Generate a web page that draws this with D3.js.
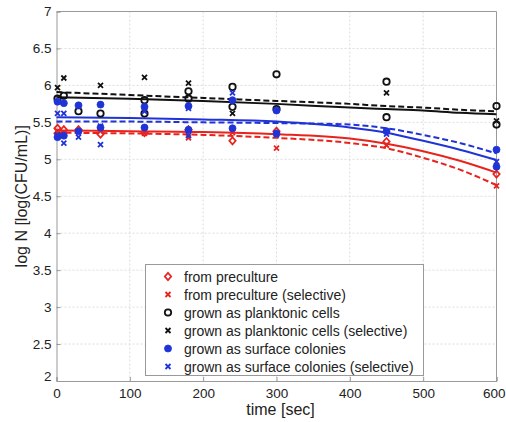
<!DOCTYPE html>
<html>
<head>
<meta charset="utf-8">
<script src="https://d3js.org/d3.v7.min.js"></script>
<style>
body { margin: 0; background: #fff; }
text { font-family: "Liberation Sans", Arial, sans-serif; }
</style>
</head>
<body>
<script>
// tick labels
var xTicks = [0, 100, 200, 300, 400, 500, 600];
var yTicks = [2, 2.5, 3, 3.5, 4, 4.5, 5, 5.5, 6, 6.5, 7];

// measured points [time, log N]
var precult = [[0,5.42],[0,5.35],[10,5.40],[30,5.40],[60,5.34],[120,5.36],[180,5.40],[240,5.25],[300,5.38],[450,5.24],[600,4.80]];
var precultSel = [[0,5.38],[10,5.36],[30,5.37],[60,5.38],[120,5.35],[180,5.29],[240,5.36],[300,5.15],[450,5.19],[600,4.64]];
var plank = [[0,5.82],[10,5.86],[30,5.65],[60,5.62],[120,5.80],[120,5.62],[180,5.92],[180,5.82],[240,5.98],[240,5.71],[300,6.15],[300,5.68],[450,6.05],[450,5.57],[600,5.72],[600,5.47]];
var plankSel = [[0,5.97],[10,6.10],[60,6.00],[120,6.11],[180,6.03],[240,5.62],[450,5.90],[600,5.52]];
var surf = [[0,5.78],[0,5.30],[10,5.76],[10,5.32],[30,5.73],[30,5.38],[60,5.74],[60,5.43],[120,5.71],[120,5.43],[180,5.72],[180,5.40],[240,5.80],[240,5.42],[300,5.66],[300,5.35],[450,5.38],[600,5.13],[600,4.90]];
var surfSel = [[0,5.62],[0,5.33],[10,5.62],[10,5.22],[30,5.30],[60,5.45],[60,5.20],[120,5.65],[180,5.69],[180,5.32],[240,5.90],[300,5.33],[450,5.34],[600,4.97]];

// fitted curves read at these times
var fitT = [0, 100, 200, 300, 400, 450, 500, 550, 600];
var fitPlank = [5.84, 5.82, 5.79, 5.75, 5.70, 5.68, 5.66, 5.63, 5.61];
var fitPlankSel = [5.91, 5.87, 5.83, 5.79, 5.75, 5.72, 5.70, 5.67, 5.65];
var fitSurf = [5.57, 5.56, 5.54, 5.51, 5.43, 5.36, 5.25, 5.13, 4.99];
var fitSurfSel = [5.51, 5.51, 5.50, 5.49, 5.47, 5.42, 5.33, 5.22, 5.08];
var fitPre = [5.39, 5.38, 5.37, 5.34, 5.28, 5.21, 5.11, 4.98, 4.82];
var fitPreSel = [5.36, 5.35, 5.33, 5.29, 5.22, 5.15, 5.02, 4.86, 4.65];

var legendLabels = ["from preculture", "from preculture (selective)", "grown as planktonic cells",
	"grown as planktonic cells (selective)", "grown as surface colonies", "grown as surface colonies (selective)"];

(function() {
var RED = "#e8231e", BLUE = "#1f33d6", BLACK = "#111";

var width = 506, height = 422;
var pLeft = 56.5, pRight = 496.5, pTop = 11.5, pBottom = 381;

var svg = d3.select("body").append("svg")
	.attr("width", width)
	.attr("height", height);

var x = d3.scaleLinear().domain([0, 600]).range([pLeft, pRight]);
var y = d3.scaleLinear().domain([2, 7]).range([pBottom, pTop]);

// grid
svg.append("g").selectAll("line")
	.data(xTicks.slice(1, -1))
	.enter().append("line")
	.attr("x1", function(d) { return x(d); })
	.attr("x2", function(d) { return x(d); })
	.attr("y1", pTop).attr("y2", pBottom)
	.attr("stroke", "#dcdcdc").attr("stroke-width", 1).attr("stroke-dasharray", "2,2");
svg.append("g").selectAll("line")
	.data(yTicks.slice(1, -1))
	.enter().append("line")
	.attr("y1", function(d) { return y(d); })
	.attr("y2", function(d) { return y(d); })
	.attr("x1", pLeft).attr("x2", pRight)
	.attr("stroke", "#dcdcdc").attr("stroke-width", 1).attr("stroke-dasharray", "2,2");

// axes
var xAxis = svg.append("g")
	.attr("transform", "translate(0," + pBottom + ")")
	.call(d3.axisBottom(x).tickValues(xTicks).tickSize(-4).tickPadding(7).tickFormat(d3.format("d")));
var yAxis = svg.append("g")
	.attr("transform", "translate(" + pLeft + ",0)")
	.call(d3.axisLeft(y).tickValues(yTicks).tickSize(-4).tickPadding(5).tickFormat(function(d) { return String(d); }));
[xAxis, yAxis].forEach(function(a) {
	a.select(".domain").attr("stroke", "#999");
	a.selectAll(".tick line").attr("stroke", "#999");
	a.selectAll("text").attr("font-size", 13.5).attr("fill", "#222")
		.style("font-family", "'Liberation Sans', Arial, sans-serif");
});
// keep the last x label inside the picture
xAxis.selectAll(".tick").filter(function(d) { return d === 600; }).select("text").attr("dx", "-0.2em");
// MATLAB style: y=2 label sits a bit above the corner
yAxis.selectAll(".tick").filter(function(d) { return d === 2; }).select("text").attr("dy", "-0.05em");
svg.append("line").attr("x1", pLeft).attr("x2", pRight).attr("y1", pTop).attr("y2", pTop).attr("stroke", "#999");
svg.append("line").attr("x1", pRight).attr("x2", pRight).attr("y1", pTop).attr("y2", pBottom).attr("stroke", "#999");

// fitted lines
var line = d3.line()
	.x(function(d, i) { return x(fitT[i]); })
	.y(function(d) { return y(d); })
	.curve(d3.curveMonotoneX);
var fits = [
	{ v: fitPre, c: RED, dash: null },
	{ v: fitPreSel, c: RED, dash: "6,3" },
	{ v: fitPlank, c: BLACK, dash: null },
	{ v: fitPlankSel, c: BLACK, dash: "6,3" },
	{ v: fitSurf, c: BLUE, dash: null },
	{ v: fitSurfSel, c: BLUE, dash: "6,3" }
];
svg.append("g").selectAll("path")
	.data(fits)
	.enter().append("path")
	.attr("d", function(d) { return line(d.v); })
	.attr("fill", "none")
	.attr("stroke", function(d) { return d.c; })
	.attr("stroke-width", 2)
	.attr("stroke-dasharray", function(d) { return d.dash; });

// markers
function diamond(g, cx, cy, c) {
	g.append("path")
		.attr("d", "M" + cx + "," + (cy - 3.6) + "L" + (cx + 3.2) + "," + cy + "L" + cx + "," + (cy + 3.6) + "L" + (cx - 3.2) + "," + cy + "Z")
		.attr("fill", "none").attr("stroke", c).attr("stroke-width", 1.7);
}
function cross(g, cx, cy, c) {
	g.append("path")
		.attr("d", "M" + (cx - 2.5) + "," + (cy - 2.5) + "L" + (cx + 2.5) + "," + (cy + 2.5) + "M" + (cx - 2.5) + "," + (cy + 2.5) + "L" + (cx + 2.5) + "," + (cy - 2.5))
		.attr("stroke", c).attr("stroke-width", 1.8);
}
function ring(g, cx, cy, c) {
	g.append("circle").attr("cx", cx).attr("cy", cy).attr("r", 3.2)
		.attr("fill", "none").attr("stroke", c).attr("stroke-width", 1.8);
}
function dot(g, cx, cy, c) {
	g.append("circle").attr("cx", cx).attr("cy", cy).attr("r", 3.5)
		.attr("fill", c).attr("stroke", c).attr("stroke-width", 0.8);
}

var series = [
	{ pts: precult, draw: diamond, c: RED },
	{ pts: precultSel, draw: cross, c: RED },
	{ pts: plank, draw: ring, c: BLACK },
	{ pts: plankSel, draw: cross, c: BLACK },
	{ pts: surf, draw: dot, c: BLUE },
	{ pts: surfSel, draw: cross, c: BLUE }
];
var pg = svg.append("g");
series.forEach(function(s) {
	s.pts.forEach(function(p) {
		var px = Math.max(x(p[0]), pLeft + 1);
		s.draw(pg, px, y(p[1]), s.c);
	});
});

// axis labels
svg.append("text")
	.attr("transform", "translate(27," + ((pTop + pBottom) / 2) + ") rotate(-90)")
	.attr("text-anchor", "middle")
	.attr("font-size", 16)
	.attr("fill", "#222")
	.text("log N [log(CFU/mL)]");
svg.append("text")
	.attr("x", (pLeft + pRight) / 2 + 4)
	.attr("y", 415)
	.attr("text-anchor", "middle")
	.attr("font-size", 16)
	.attr("fill", "#222")
	.text("time [sec]");

// legend
var lg = svg.append("g");
lg.append("rect")
	.attr("x", 145.5).attr("y", 264.5)
	.attr("width", 278).attr("height", 111)
	.attr("fill", "#fff").attr("stroke", "#999");
series.forEach(function(s, i) {
	var ly = 276.5 + i * 18;
	s.draw(lg, 168, ly, s.c);
	lg.append("text")
		.attr("x", 184)
		.attr("y", ly + 5)
		.attr("font-size", 14)
		.attr("fill", "#222")
		.text(legendLabels[i]);
});
})();
</script>
</body>
</html>
